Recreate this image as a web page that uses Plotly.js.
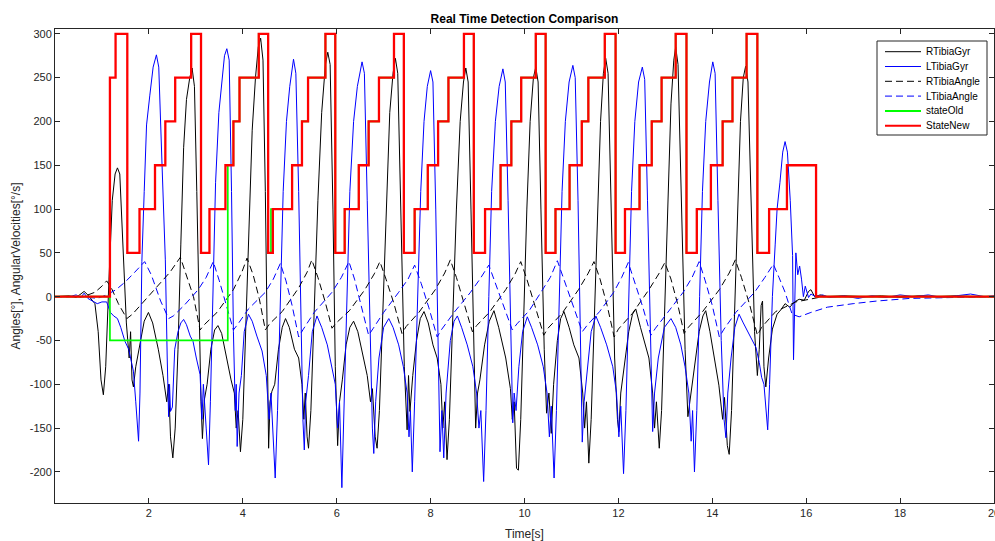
<!DOCTYPE html>
<html>
<head>
<meta charset="utf-8">
<script src="https://cdn.plot.ly/plotly-3.0.1.min.js"></script>
<style>html,body{margin:0;padding:0;background:#fff;}#chart{width:995px;height:541px;}</style>
</head>
<body>
<div id="chart"></div>
<script>
// ---------- data ----------
const rTibiaGyrT = [0,0.30,0.45,0.55,0.62,0.70,0.78,0.85,0.92,0.98,1.03,1.08,1.15,1.22,1.28,1.33,1.38,1.45,1.52,1.58,1.61,1.64,1.67,1.72,1.80,1.90,1.99,2.08,2.20,2.30,2.38,2.42,2.46,2.51,2.56,2.62,2.68,2.74,2.80,2.87,2.92,2.97,3.02,3.07,3.11,3.14,3.18,3.24,3.32,3.40,3.47,3.55,3.65,3.75,3.82,3.86,3.90,3.95,4.00,4.06,4.13,4.20,4.27,4.33,4.38,4.43,4.48,4.52,4.55,4.58,4.62,4.68,4.76,4.84,4.91,4.99,5.10,5.19,5.26,5.30,5.33,5.37,5.40,5.45,5.52,5.60,5.68,5.76,5.81,5.86,5.92,5.97,6.02,6.06,6.12,6.20,6.28,6.36,6.45,6.55,6.65,6.72,6.76,6.82,6.86,6.91,6.98,7.05,7.13,7.20,7.25,7.30,7.37,7.44,7.50,7.53,7.56,7.62,7.70,7.78,7.86,7.95,8.05,8.14,8.22,8.26,8.30,8.35,8.40,8.47,8.55,8.63,8.70,8.75,8.80,8.86,8.92,8.96,9.00,9.05,9.15,9.25,9.35,9.45,9.60,9.70,9.74,9.78,9.83,9.87,9.92,9.98,10.05,10.12,10.19,10.24,10.29,10.35,10.42,10.47,10.52,10.57,10.62,10.70,10.77,10.84,10.95,11.05,11.16,11.24,11.28,11.32,11.37,11.42,11.48,11.55,11.62,11.68,11.73,11.78,11.85,11.92,11.98,12.01,12.05,12.12,12.22,12.30,12.37,12.47,12.57,12.65,12.73,12.77,12.81,12.87,12.92,12.98,13.05,13.12,13.18,13.22,13.27,13.34,13.42,13.48,13.51,13.55,13.62,13.72,13.80,13.86,13.95,14.05,14.14,14.22,14.26,14.32,14.36,14.41,14.47,14.54,14.60,14.66,14.71,14.76,14.83,14.90,14.96,15.00,15.04,15.07,15.10,15.14,15.20,15.28,15.38,15.46,15.55,15.65,15.75,15.85,15.96,16.05,16.10,16.18,16.30,16.45,16.80,17.20,17.60,18.00,18.40,18.80,19.20,19.60,20.00];
const rTibiaGyrV = [0,1,-1,3,6,2,-4,-8,-40,-95,-112,-80,20,110,140,147,140,60,-30,-70,-40,-95,-103,-80,-55,-28,-18,-30,-60,-90,-120,-100,-160,-184,-150,-60,60,170,225,250,261,240,120,-30,-120,-162,-118,-100,-60,-38,-33,-42,-70,-95,-110,-150,-130,-177,-140,-40,80,190,250,285,295,270,120,-60,-173,-120,-108,-100,-60,-35,-25,-35,-60,-70,-100,-140,-110,-160,-173,-130,-20,110,210,265,279,265,100,-80,-170,-120,-95,-55,-35,-28,-40,-65,-90,-120,-105,-160,-173,-130,-20,100,210,255,272,255,100,-80,-152,-90,-131,-90,-50,-25,-17,-30,-55,-70,-100,-150,-120,-186,-140,-30,100,200,245,261,245,100,-70,-150,-110,-95,-55,-28,-16,-35,-70,-105,-140,-120,-196,-198,-140,-20,100,200,250,262,245,100,-60,-133,-110,-156,-100,-50,-25,-17,-35,-55,-70,-110,-150,-120,-190,-140,-30,100,200,255,272,255,100,-70,-140,-154,-110,-80,-40,-20,-14,-35,-55,-70,-110,-150,-120,-173,-130,-20,100,220,270,285,265,100,-60,-137,-125,-110,-80,-40,-22,-16,-40,-70,-101,-140,-115,-170,-180,-130,-20,100,200,250,263,245,100,-40,-90,-60,-10,-5,-80,-103,-70,-37,-20,-15,-8,-12,-6,-3,-4,6,8,0,2,0,1,0,1,-1,1,0,1,0,0];

const lTibiaGyrT = [0,0.30,0.45,0.55,0.62,0.70,0.80,0.90,1.00,1.10,1.18,1.25,1.33,1.40,1.49,1.57,1.63,1.67,1.72,1.78,1.81,1.85,1.90,1.95,2.02,2.09,2.16,2.21,2.28,2.35,2.39,2.42,2.44,2.46,2.50,2.55,2.62,2.68,2.74,2.80,2.88,2.94,3.01,3.09,3.13,3.16,3.22,3.27,3.31,3.36,3.42,3.49,3.55,3.61,3.66,3.71,3.76,3.80,3.84,3.86,3.88,3.92,3.97,4.03,4.12,4.20,4.30,4.41,4.50,4.56,4.60,4.65,4.69,4.74,4.80,4.86,4.93,5.00,5.08,5.13,5.19,5.24,5.28,5.31,5.34,5.40,5.48,5.58,5.68,5.80,5.90,5.97,6.02,6.06,6.11,6.16,6.22,6.28,6.36,6.44,6.54,6.59,6.65,6.72,6.76,6.79,6.83,6.90,7.00,7.11,7.20,7.32,7.42,7.50,7.54,7.57,7.61,7.66,7.72,7.79,7.86,7.93,8.00,8.05,8.11,8.17,8.20,8.24,8.28,8.33,8.42,8.50,8.57,8.66,8.78,8.90,8.98,9.03,9.07,9.13,9.18,9.24,9.30,9.38,9.46,9.54,9.59,9.65,9.71,9.75,9.78,9.82,9.88,9.96,10.06,10.15,10.28,10.40,10.48,10.53,10.57,10.63,10.68,10.74,10.80,10.87,10.95,11.03,11.08,11.14,11.19,11.23,11.27,11.33,11.42,11.52,11.62,11.75,11.88,11.96,12.01,12.05,12.11,12.16,12.22,12.28,12.35,12.43,12.51,12.56,12.62,12.68,12.73,12.77,12.85,12.98,13.12,13.22,13.33,13.42,13.50,13.55,13.58,13.62,13.67,13.73,13.79,13.86,13.94,14.01,14.06,14.12,14.19,14.25,14.29,14.33,14.40,14.48,14.57,14.66,14.80,14.93,15.00,15.05,15.10,15.14,15.18,15.22,15.28,15.34,15.38,15.44,15.50,15.55,15.60,15.66,15.71,15.73,15.76,15.78,15.82,15.86,15.90,15.94,15.98,16.05,16.10,16.20,16.35,16.50,16.80,17.10,17.40,17.70,18.00,18.30,18.60,18.90,19.20,19.50,19.80,20.00];
const lTibiaGyrV = [0,0,2,-1,4,-2,-5,-8,-6,-6,-18,-22,-25,-35,-51,-60,-75,-85,-120,-165,-110,40,120,196,230,262,276,262,150,42,-70,-137,-100,-131,-126,-60,-40,-30,-26,-32,-45,-51,-70,-89,-140,-100,-150,-192,-120,0,130,210,240,275,283,270,120,-40,-130,-100,-171,-110,-90,-40,-20,-28,-45,-62,-90,-140,-110,-170,-207,-130,0,120,200,240,271,255,120,-40,-140,-175,-120,-90,-40,-22,-35,-55,-80,-100,-150,-120,-218,-120,0,120,200,240,268,255,110,-60,-150,-179,-120,-70,-35,-25,-35,-55,-80,-110,-160,-130,-200,-120,0,120,200,240,258,245,100,-70,-177,-130,-184,-110,-50,-28,-22,-35,-55,-80,-110,-150,-130,-211,-130,0,120,200,240,260,245,110,-60,-144,-110,-130,-80,-40,-23,-35,-55,-80,-110,-160,-125,-207,-130,0,120,200,245,264,250,110,-50,-166,-120,-90,-40,-22,-35,-55,-80,-110,-160,-125,-202,-130,0,120,200,245,262,248,110,-50,-154,-110,-70,-35,-25,-35,-55,-80,-110,-165,-130,-200,-130,0,120,200,245,268,255,110,-50,-140,-161,-110,-70,-35,-20,-30,-45,-58,-75,-92,-100,-130,-152,-100,0,60,100,130,165,177,165,110,47,-72,10,50,25,35,20,0,12,-1,3,0,2,-1,1,-2,1,-1,2,0,2,-1,1,3,0,1];

const rTibiaAngleT = [0,0.60,0.85,1.00,1.10,1.20,1.35,1.53,1.65,1.90,2.20,2.45,2.67,2.80,2.95,3.09,3.18,3.45,3.80,3.98,4.09,4.22,4.35,4.48,4.57,4.84,5.19,5.37,5.47,5.60,5.75,5.90,5.99,6.27,6.60,6.80,6.92,7.05,7.22,7.39,7.48,7.75,8.10,8.30,8.42,8.55,8.72,8.89,8.98,9.25,9.60,9.80,9.92,10.05,10.22,10.41,10.50,10.80,11.15,11.35,11.48,11.61,11.76,11.91,12.00,12.30,12.65,12.86,12.99,13.12,13.26,13.40,13.49,13.78,14.15,14.36,14.49,14.62,14.80,14.96,15.05,15.35,15.78,16.35,17.00,20.00];
const rTibiaAngleV = [0,0,5,12,18,10,-8,-25,-20,-5,12,28,45,25,0,-38,-32,-18,8,28,44,25,-2,-38,-31,-17,10,28,42,22,-5,-36,-30,-16,8,26,40,20,-8,-42,-34,-18,8,27,42,22,-8,-40,-33,-18,8,26,40,20,-10,-44,-36,-19,8,26,40,20,-10,-46,-37,-19,8,26,39,20,-8,-42,-35,-18,8,27,42,22,-10,-44,-35,-17,-6,0,0,0];

const lTibiaAngleT = [0,0.60,0.90,1.10,1.30,1.50,1.70,1.91,2.05,2.25,2.42,2.52,2.75,3.05,3.22,3.37,3.50,3.65,3.80,3.90,4.12,4.48,4.65,4.80,4.92,5.05,5.19,5.29,5.52,5.90,6.10,6.26,6.38,6.52,6.68,6.78,7.00,7.32,7.52,7.66,7.80,7.96,8.14,8.24,8.50,8.85,9.05,9.24,9.38,9.56,9.74,9.84,10.10,10.35,10.55,10.70,10.85,11.04,11.23,11.33,11.60,11.90,12.07,12.21,12.35,12.52,12.69,12.79,13.05,13.38,13.57,13.72,13.85,14.00,14.15,14.25,14.50,14.90,15.12,15.30,15.42,15.55,15.70,15.85,16.10,16.45,17.00,17.50,18.20,19.00,20.00];
const lTibiaAngleV = [0,0,-2,2,8,17,28,40,25,-5,-25,-22,-10,8,22,40,18,-10,-38,-31,-14,5,20,38,18,-10,-46,-37,-18,5,22,40,20,-10,-44,-36,-18,5,20,36,15,-12,-46,-37,-18,5,20,36,15,-12,-38,-31,-16,5,22,41,18,-10,-40,-33,-17,5,22,39,16,-12,-44,-36,-18,5,22,40,18,-10,-46,-37,-18,5,22,37,22,5,-20,-23,-18,-12,-8,-5,-2,-1,0];

const stateOldT = [0,1.17,3.68,3.80,3.93,4.34,4.54,4.60,5.05,5.26,5.39,5.76,5.97,6.17,6.47,6.68,6.90,7.22,7.43,7.66,7.94,8.16,8.38,8.71,8.92,9.16,9.49,9.72,9.93,10.24,10.45,10.66,10.96,11.22,11.36,11.71,11.94,12.14,12.45,12.71,12.92,13.22,13.45,13.67,13.97,14.22,14.43,14.73,14.96,15.21,15.59,16.21,20];
const stateOldV = [0,-50,150,200,250,300,50,100,150,200,250,300,50,100,150,200,250,300,50,100,150,200,250,300,50,100,150,200,250,300,50,100,150,200,250,300,50,100,150,200,250,300,50,100,150,200,250,300,50,100,150,0,0];

const stateNewT = [0,1.17,1.29,1.54,1.80,2.13,2.35,2.56,2.90,3.11,3.29,3.63,3.80,3.93,4.34,4.54,4.64,5.05,5.26,5.39,5.76,5.97,6.17,6.47,6.68,6.90,7.22,7.43,7.66,7.94,8.16,8.38,8.71,8.92,9.16,9.49,9.72,9.93,10.24,10.45,10.66,10.96,11.22,11.36,11.71,11.94,12.14,12.45,12.71,12.92,13.22,13.45,13.67,13.97,14.22,14.43,14.73,14.96,15.21,15.59,16.21,20];
const stateNewV = [0,250,300,50,100,150,200,250,300,50,100,150,200,250,300,50,100,150,200,250,300,50,100,150,200,250,300,50,100,150,200,250,300,50,100,150,200,250,300,50,100,150,200,250,300,50,100,150,200,250,300,50,100,150,200,250,300,50,100,150,0,0];

const xTicks = [2,4,6,8,10,12,14,16,18,20];
const yTicks = [-200,-150,-100,-50,0,50,100,150,200,250,300];
const seriesNames = ['RTibiaGyr','LTibiaGyr','RTibiaAngle','LTibiaAngle','stateOld','StateNew'];

// ---------- chart ----------
const FONT = 'Liberation Sans, Arial, Helvetica, sans-serif';
const AX = '#262626';
const W = 995, H = 541, ML = 55, MR = 1, MT = 29, MB = 38;
const PW = W - ML - MR, PH = H - MT - MB;
const px2x = p => (p - ML) / PW;          // pixel -> paper x
const py2y = p => (H - MB - p) / PH;      // pixel -> paper y

const styles = [
  {color:'#000000', width:1},
  {color:'#0000ff', width:1},
  {color:'#000000', width:1, dash:'7px,4px'},
  {color:'#0000ff', width:1, dash:'7px,4px'},
  {color:'#00ff00', width:1.7, shape:'hv'},
  {color:'#ff0000', width:2.3, shape:'hv'}
];
const xs = [rTibiaGyrT, lTibiaGyrT, rTibiaAngleT, lTibiaAngleT, stateOldT, stateNewT];
const ys = [rTibiaGyrV, lTibiaGyrV, rTibiaAngleV, lTibiaAngleV, stateOldV, stateNewV];

const traces = seriesNames.map((n, i) => ({
  name:n, x:xs[i], y:ys[i], mode:'lines', line:styles[i], showlegend:false
}));

// legend drawn as a box with sample lines and labels
const shapes = [{type:'rect', xref:'paper', yref:'paper', x0:px2x(877), x1:px2x(987), y0:py2y(135), y1:py2y(41),
  line:{color:AX, width:1}, fillcolor:'#ffffff', layer:'above'}];
const annotations = [];
seriesNames.forEach((n, i) => {
  const rowY = 51.7 + i * 14.8;
  const st = styles[i];
  shapes.push({type:'line', xref:'paper', yref:'paper', x0:px2x(885), x1:px2x(921), y0:py2y(rowY), y1:py2y(rowY),
    line:{color:st.color, width:i >= 4 ? 2 : 1, dash:st.dash || 'solid'}, layer:'above'});
  annotations.push({xref:'paper', yref:'paper', x:px2x(924), y:py2y(rowY), xanchor:'left', yanchor:'middle',
    text:n, showarrow:false, font:{family:FONT, size:10, color:'#000'}});
});

const axisCommon = {
  showline:true, linecolor:AX, linewidth:1, mirror:'ticks',
  ticks:'inside', ticklen:5, tickwidth:1, tickcolor:AX,
  showgrid:false, zeroline:false,
  tickfont:{family:FONT, size:11, color:AX}
};

const layout = {
  width:W, height:H,
  paper_bgcolor:'#ffffff', plot_bgcolor:'#ffffff',
  margin:{l:ML, r:MR, t:MT, b:MB, pad:0},
  showlegend:false,
  title:{text:'<b>Real Time Detection Comparison</b>', font:{family:FONT, size:12, color:'#000'}, x:0.5, xref:'paper', xanchor:'center', y:1-19/541, yref:'container', yanchor:'middle'},
  xaxis:Object.assign({}, axisCommon, {range:[0,20], tickvals:xTicks, ticktext:xTicks.map(String), ticklabeloverflow:'allow',
    title:{text:'Time[s]', font:{family:FONT, size:12, color:AX}, standoff:11}}),
  yaxis:Object.assign({}, axisCommon, {range:[-235.5,305.5], tickvals:yTicks, ticktext:yTicks.map(String),
    title:{text:'Angles[°], AngularVelocities[°/s]', font:{family:FONT, size:12, color:AX}, standoff:6}}),
  shapes:shapes,
  annotations:annotations
};

Plotly.newPlot('chart', traces, layout, {staticPlot:true, displayModeBar:false});
</script>
</body>
</html>
